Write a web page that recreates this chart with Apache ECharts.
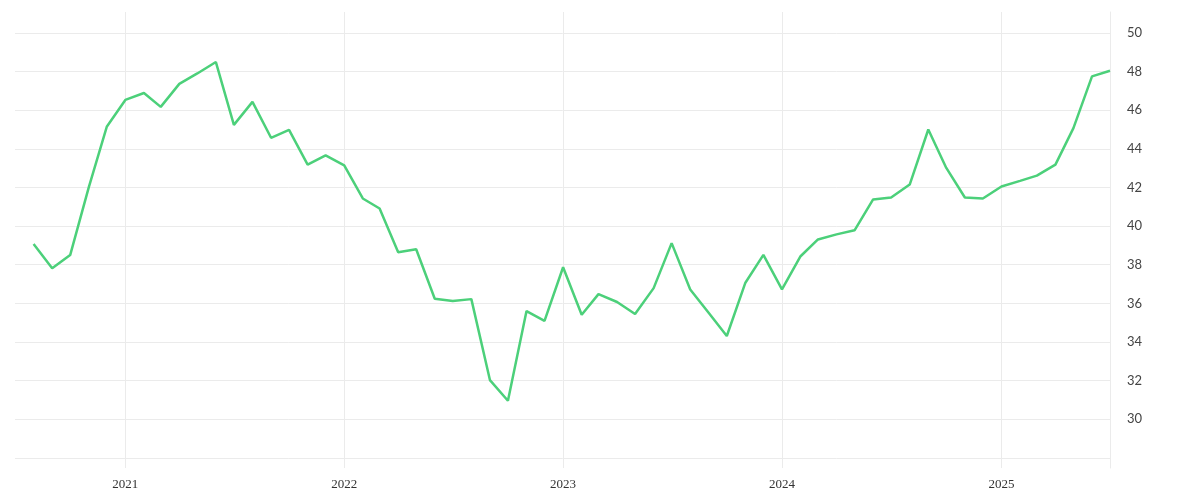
<!DOCTYPE html>
<html>
<head>
<meta charset="utf-8">
<script src="https://cdn.jsdelivr.net/npm/echarts@6/dist/echarts.min.js"></script>
<style>html,body{margin:0;padding:0;background:#fff}#c{width:1200px;height:500px}</style>
</head>
<body>
<div id="c"></div>
<script>
const months = [
 '2020-08','2020-09','2020-10','2020-11','2020-12',
 '2021-01','2021-02','2021-03','2021-04','2021-05','2021-06','2021-07','2021-08','2021-09','2021-10','2021-11','2021-12',
 '2022-01','2022-02','2022-03','2022-04','2022-05','2022-06','2022-07','2022-08','2022-09','2022-10','2022-11','2022-12',
 '2023-01','2023-02','2023-03','2023-04','2023-05','2023-06','2023-07','2023-08','2023-09','2023-10','2023-11','2023-12',
 '2024-01','2024-02','2024-03','2024-04','2024-05','2024-06','2024-07','2024-08','2024-09','2024-10','2024-11','2024-12',
 '2025-01','2025-02','2025-03','2025-04','2025-05','2025-06','2025-07'
];
const values = [
 39.07,37.82,38.50,42.00,45.14,
 46.53,46.89,46.17,47.36,47.90,48.49,45.24,46.43,44.57,44.98,43.18,43.66,
 43.14,41.43,40.91,38.65,38.80,36.24,36.12,36.22,32.03,30.96,35.60,35.09,
 37.87,35.41,36.48,36.07,35.45,36.79,39.12,36.72,35.50,34.31,37.07,38.51,
 36.72,38.44,39.31,39.57,39.78,41.38,41.48,42.15,45.00,43.01,41.48,41.43,
 42.05,42.34,42.61,43.18,45.07,47.75,48.04
];
const yearTicks = ['2021','2022','2023','2024','2025'];
const yTicks = [28,30,32,34,36,38,40,42,44,46,48,50];
const yLabels = [30,32,34,36,38,40,42,44,46,48,50];

function ts(s){const p=s.split('-');return Date.UTC(+p[0],(+p[1])-1,1);}
const data = months.map((m,i)=>[ts(m), values[i]]);
const yearTs = yearTicks.map(y=>Date.UTC(+y,0,1));

const chart = echarts.init(document.getElementById('c'));
chart.setOption({
  animation:false,
  backgroundColor:'#fff',
  grid:{left:15,right:90,top:12,bottom:32,containLabel:false},
  xAxis:{
    type:'value',
    min:Date.UTC(2020,6,1),
    max:Date.UTC(2025,6,1),
    axisLine:{show:false},
    axisTick:{show:false,customValues:yearTs},
    splitLine:{show:true,lineStyle:{color:'#ebebeb',width:1}},
    axisLabel:{
      customValues:yearTs,
      formatter:function(v){return String(new Date(v).getUTCFullYear());},
      fontFamily:'Liberation Serif',fontSize:13,color:'#333',margin:10
    }
  },
  yAxis:{
    type:'value',
    position:'right',
    min:27.48,
    max:51.08,
    axisLine:{show:true,lineStyle:{color:'#ebebeb',width:1}},
    axisTick:{show:false,customValues:yTicks},
    splitLine:{show:true,lineStyle:{color:'#ebebeb',width:1}},
    axisLabel:{
      customValues:yLabels,
      fontFamily:'Lato',fontSize:13,color:'#444',margin:17,
      padding:[4,0,0,0]
    }
  },
  series:[{
    type:'line',
    data:data,
    showSymbol:false,
    symbol:'none',
    lineStyle:{color:'#4cd07a',width:2.5},
    itemStyle:{color:'#4cd07a'}
  }]
});
</script>
</body>
</html>
